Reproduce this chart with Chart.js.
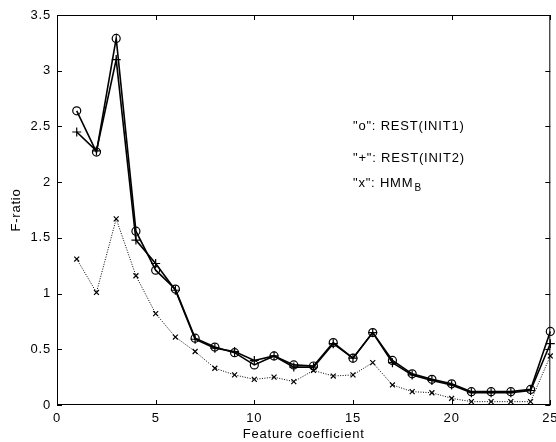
<!DOCTYPE html>
<html>
<head>
<meta charset="utf-8">
<script src="https://cdn.jsdelivr.net/npm/chart.js@4/dist/chart.umd.min.js"></script>
<style>
html,body{margin:0;padding:0;background:#fff;}
#wrap{width:556px;height:442px;position:relative;}
</style>
</head>
<body>
<div id="wrap"><canvas id="c"></canvas></div>
<script>
const featureCoeff = [1,2,3,4,5,6,7,8,9,10,11,12,13,14,15,16,17,18,19,20,21,22,23,24,25];
const restInit1 = [2.64,2.27,3.29,1.56,1.21,1.04,0.60,0.52,0.47,0.36,0.44,0.36,0.35,0.56,0.42,0.65,0.40,0.28,0.23,0.19,0.12,0.12,0.12,0.14,0.66];
const restInit2 = [2.45,2.28,3.10,1.48,1.27,1.03,0.59,0.51,0.48,0.40,0.44,0.34,0.34,0.55,0.42,0.65,0.38,0.27,0.22,0.18,0.11,0.11,0.11,0.13,0.55];
const hmmB = [1.31,1.01,1.67,1.16,0.82,0.61,0.48,0.33,0.27,0.23,0.25,0.21,0.31,0.26,0.27,0.38,0.18,0.12,0.11,0.06,0.03,0.03,0.03,0.03,0.44];
const xTicks = [0,5,10,15,20,25];
const yTicks = [0,0.5,1,1.5,2,2.5,3,3.5];
const yTickLabels = ['0','0.5','1','1.5','2','2.5','3','3.5'];
const seriesNames = ['"o": REST(INIT1)', '"+": REST(INIT2)', '"x": HMM'];
const subscriptText = 'B';
const labelAnchorX = 15;
const labelAnchorY = [2.5, 2.21, 1.99];

const FONT = '"Liberation Sans", Arial, Helvetica, sans-serif';
const pts = arr => featureCoeff.map((x,i)=>({x:x,y:arr[i]}));

const frame = {
  id:'frame',
  beforeDraw(chart){ chart.ctx.letterSpacing = '0.8px'; },
  afterDatasetsDraw(chart){
    const {ctx, chartArea:{left,right,top,bottom}, scales:{x,y}} = chart;
    ctx.save();
    ctx.strokeStyle='#000'; ctx.lineWidth=1;
    ctx.strokeRect(left+0.5, top+0.5, right-left-1, bottom-top-1);
    const L=5;
    ctx.beginPath();
    xTicks.forEach(v=>{ const p=Math.round(x.getPixelForValue(v))+0.5;
      ctx.moveTo(p,bottom); ctx.lineTo(p,bottom-L); ctx.moveTo(p,top); ctx.lineTo(p,top+L); });
    yTicks.forEach(v=>{ const p=Math.round(y.getPixelForValue(v))+0.5;
      ctx.moveTo(left,p); ctx.lineTo(left+L,p); ctx.moveTo(right,p); ctx.lineTo(right-L,p); });
    ctx.stroke();
    ctx.fillStyle='#000'; ctx.font='13px '+FONT; ctx.textBaseline='middle'; ctx.textAlign='left';
    ctx.letterSpacing='0.8px';
    const tx = x.getPixelForValue(labelAnchorX);
    seriesNames.forEach((s,i)=>{
      const ty = y.getPixelForValue(labelAnchorY[i]);
      ctx.fillText(s, tx, ty);
      if(i===2){ const w=ctx.measureText(s).width; ctx.font='10px '+FONT; ctx.fillText(subscriptText, tx+w+1, ty+5); ctx.font='13px '+FONT; }
    });
    ctx.restore();
  }
};

new Chart(document.getElementById('c'), {
  type:'line',
  data:{ datasets:[
    {label:'REST(INIT1)', data:pts(restInit1), borderColor:'#000', borderWidth:1.6, pointStyle:'circle', pointRadius:4, pointBorderColor:'#000', pointBackgroundColor:'rgba(0,0,0,0)', pointBorderWidth:1.2, fill:false, tension:0, clip:false},
    {label:'REST(INIT2)', data:pts(restInit2), borderColor:'#000', borderWidth:1.6, pointStyle:'cross', pointRadius:4.5, pointBorderColor:'#000', pointBorderWidth:1.2, fill:false, tension:0, clip:false},
    {label:'HMM_B', data:pts(hmmB), borderColor:'#000', borderWidth:1, borderDash:[1,1.5], pointStyle:'crossRot', pointRadius:3.5, pointBorderColor:'#000', pointBorderWidth:1.2, fill:false, tension:0, clip:false}
  ]},
  options:{
    responsive:true, maintainAspectRatio:false, animation:false,
    layout:{padding:{top:15,right:2,left:0,bottom:0}},
    plugins:{legend:{display:false}, tooltip:{enabled:false}},
    scales:{
      x:{type:'linear', min:0, max:25,
        afterBuildTicks(s){ s.ticks = xTicks.map(v=>({value:v})); },
        afterFit(s){ s.height=37; s.paddingLeft=0; s.paddingRight=0; },
        grid:{display:false, drawTicks:false}, border:{display:false},
        ticks:{color:'#000', font:{family:FONT,size:13}, padding:6, maxRotation:0, autoSkip:false},
        title:{display:true, text:'Feature coefficient', color:'#000', font:{family:FONT,size:13}, padding:{top:0,bottom:0}}
      },
      y:{type:'linear', min:0, max:3.5,
        afterBuildTicks(s){ s.ticks = yTicks.map(v=>({value:v})); },
        afterFit(s){ s.width=57; s.paddingTop=0; s.paddingBottom=0; },
        grid:{display:false, drawTicks:false}, border:{display:false},
        ticks:{color:'#000', font:{family:FONT,size:13}, padding:6, autoSkip:false,
          callback:(v)=>{ const i=yTicks.indexOf(v); return i>=0 ? yTickLabels[i] : ''; }},
        title:{display:true, text:'F-ratio', color:'#000', font:{family:FONT,size:13}, padding:{top:9,bottom:0}}
      }
    }
  },
  plugins:[frame]
});
</script>
</body>
</html>
